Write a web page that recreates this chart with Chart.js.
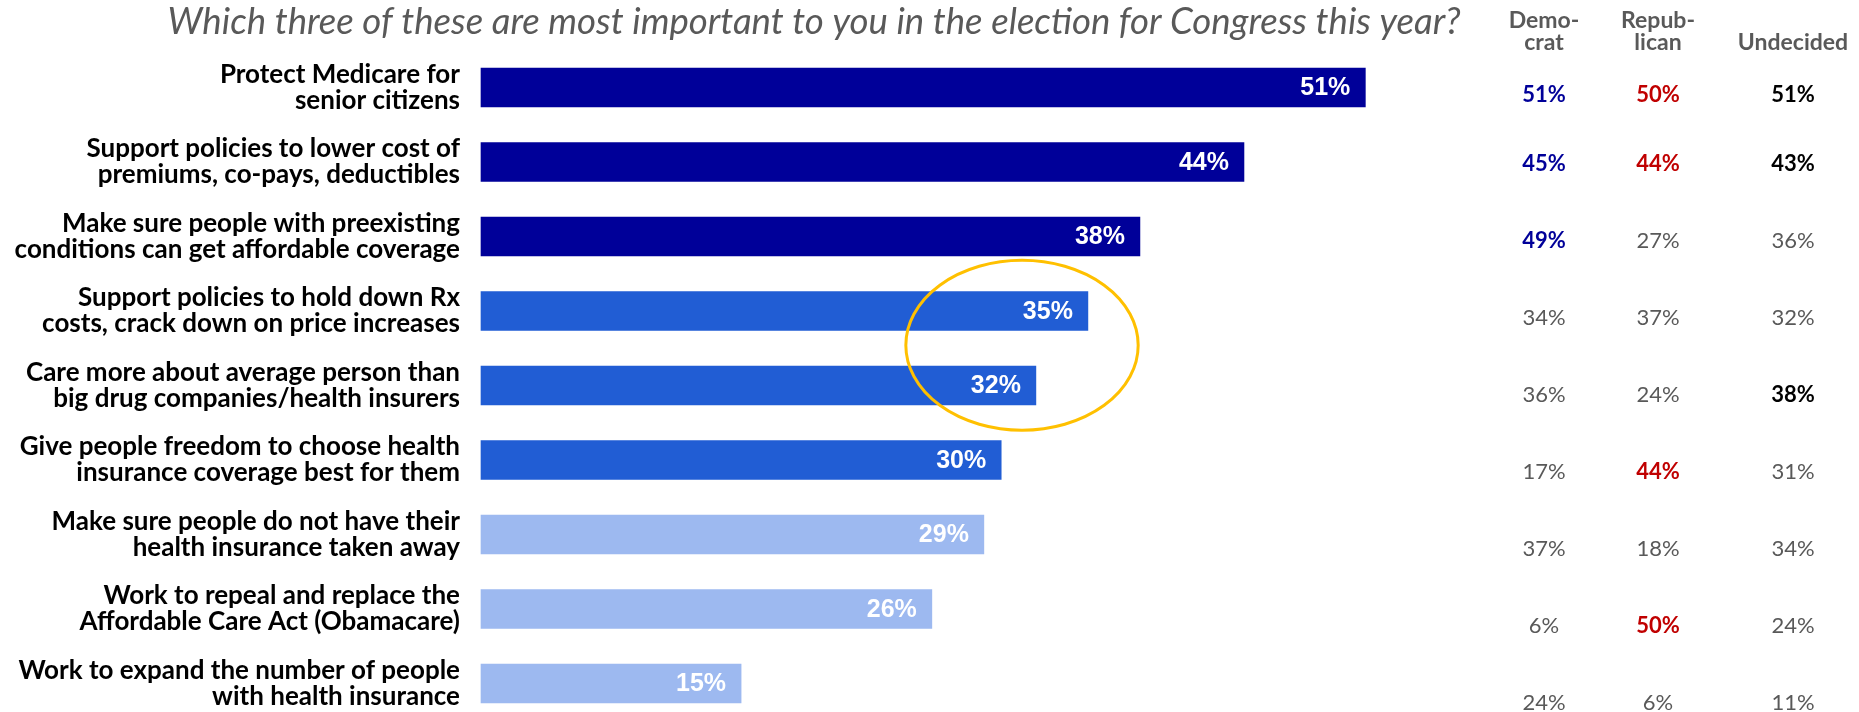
<!DOCTYPE html>
<html>
<head>
<meta charset="utf-8">
<title>Most important issues in the election for Congress</title>
<script src="https://cdn.jsdelivr.net/npm/chart.js@4.4.1/dist/chart.umd.min.js"></script>
<style>
  html, body { margin: 0; padding: 0; background: #ffffff; }
  #wrap { width: 1859px; height: 712px; position: relative; }
</style>
</head>
<body>
<div id="wrap"><canvas id="chart" width="1859" height="712"></canvas></div>
<script>
// Survey question and issue wording (two lines each, as set on the slide)
const TITLE = 'Which three of these are most important to you in the election for Congress this year?';

const ISSUES = [
    ['Protect Medicare for', 'senior citizens'],
    ['Support policies to lower cost of', 'premiums, co-pays, deductibles'],
    ['Make sure people with preexisting', 'conditions can get affordable coverage'],
    ['Support policies to hold down Rx', 'costs, crack down on price increases'],
    ['Care more about average person than', 'big drug companies/health insurers'],
    ['Give people freedom to choose health', 'insurance coverage best for them'],
    ['Make sure people do not have their', 'health insurance taken away'],
    ['Work to repeal and replace the', 'Affordable Care Act (Obamacare)'],
    ['Work to expand the number of people', 'with health insurance']
];

// All voters, % choosing each item
const TOTAL = [51, 44, 38, 35, 32, 30, 29, 26, 15];

// Tier shading: top three, next three, bottom three
const BAR_COLORS = ['#000099', '#000099', '#000099',
                    '#215dd4', '#215dd4', '#215dd4',
                    '#9db9f0', '#9db9f0', '#9db9f0'];

// Breakdown by party preference
const DEMOCRAT   = [51, 45, 49, 34, 36, 17, 37, 6, 24];
const REPUBLICAN = [50, 44, 27, 37, 24, 44, 18, 50, 6];
const UNDECIDED  = [51, 43, 36, 32, 38, 31, 34, 24, 11];

// Which breakdown cells are called out in bold
const DEMOCRAT_BOLD   = [true, true, true, false, false, false, false, false, false];
const REPUBLICAN_BOLD = [true, true, false, false, false, true, false, true, false];
const UNDECIDED_BOLD  = [true, true, false, false, true, false, false, false, false];

// Ring around the Rx / drug company items, in axis units
const RING = { xMin: 24.5, xMax: 37.9, yMin: 2.32, yMax: 4.6 };

const GRAY = '#595959';
const COLUMNS = [
    { head: ['Demo-', 'crat'], values: DEMOCRAT, bold: DEMOCRAT_BOLD, color: '#000099', x: 1544 },
    { head: ['Repub-', 'lican'], values: REPUBLICAN, bold: REPUBLICAN_BOLD, color: '#c00000', x: 1658 },
    { head: ['Undecided'], values: UNDECIDED, bold: UNDECIDED_BOLD, color: '#000000', x: 1793 }
];

// Table rows sit a little apart from the bars
const TABLE = { headBaseline: 50, headStep: 22, firstRow: 94.5, secondRow: 163.6, rowStep: 77 };

function tableRowY(i) {
    return i === 0 ? TABLE.firstRow : TABLE.secondRow + (i - 1) * TABLE.rowStep;
}

const overlay = {
    id: 'overlay',
    afterDatasetsDraw(chart) {
        const ctx = chart.ctx;
        const meta = chart.getDatasetMeta(0);
        ctx.save();
        // value labels inside the bar ends
        ctx.font = 'bold 25px "Liberation Sans", Arial, sans-serif';
        ctx.fillStyle = '#ffffff';
        ctx.textAlign = 'right';
        ctx.textBaseline = 'middle';
        meta.data.forEach((bar, i) => {
            ctx.fillText(TOTAL[i] + '%', bar.x - 15, bar.y + 1);
        });

        // highlight ring
        const xs = chart.scales.x, ys = chart.scales.y;
        const x0 = xs.getPixelForValue(RING.xMin), x1 = xs.getPixelForValue(RING.xMax);
        const y0 = ys.getPixelForValue(RING.yMin), y1 = ys.getPixelForValue(RING.yMax);
        ctx.beginPath();
        ctx.ellipse((x0 + x1) / 2, (y0 + y1) / 2, (x1 - x0) / 2, (y1 - y0) / 2, 0, 0, Math.PI * 2);
        ctx.strokeStyle = '#ffc000';
        ctx.lineWidth = 3;
        ctx.stroke();
        ctx.restore();
    },
    afterDraw(chart) {
        const ctx = chart.ctx;
        ctx.save();
        ctx.textAlign = 'center';
        ctx.textBaseline = 'alphabetic';
        ctx.fillStyle = GRAY;
        ctx.font = 'italic 36.6px Lato, sans-serif';
        ctx.fillText(TITLE, 814, 34);

        COLUMNS.forEach(col => {
            ctx.font = 'bold 23px Lato, sans-serif';
            ctx.fillStyle = GRAY;
            ctx.textBaseline = 'alphabetic';
            const n = col.head.length;
            col.head.forEach((line, k) => {
                ctx.fillText(line, col.x, TABLE.headBaseline - (n - 1 - k) * TABLE.headStep);
            });
            ctx.textBaseline = 'middle';
            col.values.forEach((v, i) => {
                const b = col.bold[i];
                ctx.font = (b ? 'bold ' : '') + '22px Lato, sans-serif';
                ctx.fillStyle = b ? col.color : GRAY;
                ctx.fillText(v + '%', col.x, tableRowY(i));
            });
        });
        ctx.restore();
    }
};

new Chart(document.getElementById('chart'), {
    type: 'bar',
    data: {
        labels: ISSUES,
        datasets: [{
            data: TOTAL,
            backgroundColor: BAR_COLORS,
            borderWidth: 0,
            barThickness: 39,
            clip: false
        }]
    },
    options: {
        indexAxis: 'y',
        responsive: false,
        animation: false,
        layout: { padding: { top: 87.5, bottom: 28.5, left: 0, right: 337.6 } },
        plugins: {
            legend: { display: false },
            tooltip: { enabled: false }
        },
        scales: {
            x: {
                display: false,
                min: 0,
                max: 60
            },
            y: {
                offset: false,
                border: { display: false },
                grid: { display: false, drawTicks: false },
                ticks: {
                    color: '#000000',
                    padding: 21,
                    font: { family: 'Lato, sans-serif', weight: 'bold', size: 26, lineHeight: 1.0 }
                },
                afterFit(scale) {
                    // labels may overhang the plot; keep the band spacing fixed
                    scale.width = 481;
                    scale.paddingTop = 0;
                    scale.paddingBottom = 0;
                }
            }
        }
    },
    plugins: [overlay]
});
</script>
</body>
</html>
